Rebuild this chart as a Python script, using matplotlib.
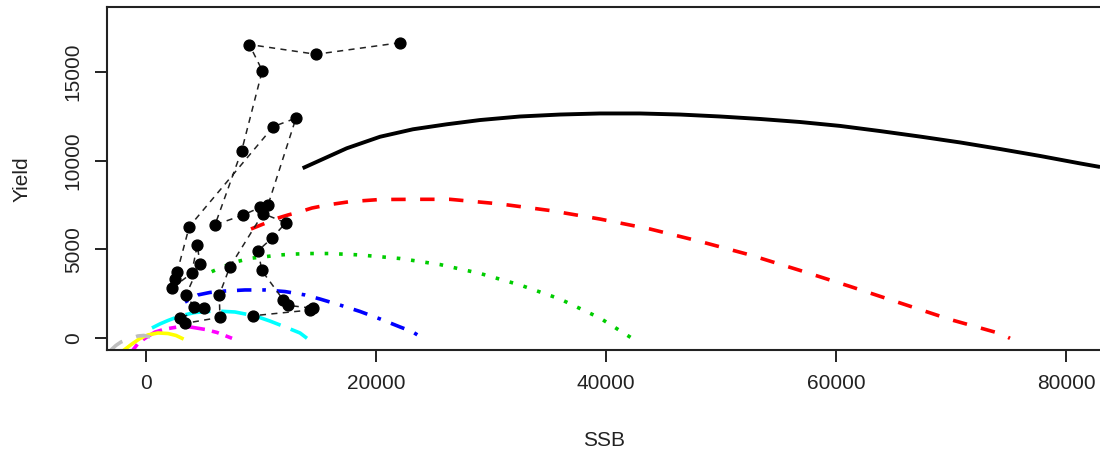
import matplotlib
matplotlib.use("Agg")
import matplotlib.pyplot as plt

# ---- data -------------------------------------------------------------
# observed stock-recruit / yield time series (SSB, Yield), in series order
obs_ssb = [22090, 14790, 8990, 10120, 8330, 6010, 8470, 9920, 10620, 13050,
           11080, 3770, 2730, 2530, 2240, 3980, 4470, 4700, 3490, 4180,
           5050, 2970, 3400, 6440, 6380, 7310, 10180, 12160, 10940, 9770,
           10070, 11950, 12380, 14560, 14270, 9340]
obs_yield = [16630, 15980, 16530, 15060, 10560, 6380, 6940, 7360, 7500, 12390,
             11910, 6280, 3750, 3340, 2810, 3660, 5250, 4190, 2440, 1780,
             1690, 1130, 840, 1180, 2440, 4030, 7020, 6500, 5620, 4940,
             3820, 2160, 1850, 1690, 1590, 1270]

# equilibrium yield curves
c1_ssb = [13630, 17460, 20360, 23220, 26150, 29050, 32530, 36010, 39480, 42960,
          46440, 49920, 53400, 56870, 60350, 63830, 67310, 70790, 74260, 77740,
          81220, 82960]
c1_yield = [9570, 10690, 11340, 11760, 12040, 12280, 12480, 12590, 12650, 12650,
            12590, 12480, 12340, 12170, 11950, 11660, 11350, 11020, 10650, 10260,
            9840, 9640]

c2_ssb = [9140, 10360, 11400, 12360, 13400, 14440, 15750, 17750, 20360, 23830,
          26440, 30790, 35140, 39480, 43830, 48180, 52530, 56870, 61220, 65570,
          69920, 74260, 75130]
c2_yield = [6150, 6470, 6750, 6940, 7120, 7330, 7500, 7690, 7810, 7820,
            7820, 7560, 7190, 6710, 6150, 5450, 4690, 3820, 2920, 1990,
            1060, 270, 0]

c3_ssb = [5720, 6730, 7900, 9050, 10360, 11660, 12960, 14270, 16010, 18620,
          22090, 25570, 29050, 32530, 36010, 39480, 42270]
c3_yield = [3750, 4030, 4310, 4500, 4590, 4690, 4740, 4770, 4770, 4690,
            4490, 4150, 3650, 3000, 2210, 1140, 0]

c4_ssb = [3400, 4530, 5570, 6880, 8620, 10360, 12100, 13830, 15140, 16880,
          18620, 20360, 22090, 23140, 24090]
c4_yield = [2040, 2440, 2580, 2660, 2720, 2720, 2630, 2440, 2210, 1870,
            1510, 1090, 640, 380, 0]

c5_ssb = [530, 1230, 1920, 2970, 4270, 6010, 7750, 9490, 10790, 12100, 13400, 14010]
c5_yield = [580, 810, 1000, 1260, 1450, 1540, 1480, 1260, 970, 640, 300, 0]

c6_ssb = [-1120, -690, -80, 790, 1660, 2790, 3830, 5140, 6180, 7490]
c6_yield = [-660, -290, 0, 350, 520, 640, 640, 500, 330, 0]

c7_ssb = [-1900, -1210, -510, 180, 1050, 1920, 2620, 3140]
c7_yield = [-660, -320, -10, 190, 300, 270, 160, 0]

c8_ssb = [-3040, -2600, -2170, -1380, -690, -170, 360, 700]
c8_yield = [-660, -400, -210, -10, 130, 160, 70, 0]

x_ticks = [0, 20000, 40000, 60000, 80000]
y_ticks = [0, 5000, 10000, 15000]

# ---- figure -------------------------------------------------------------
plt.rcParams["font.family"] = ["Liberation Sans", "DejaVu Sans"]
fig = plt.figure(figsize=(11, 4.54), dpi=100)
ax = fig.add_axes([107 / 1100, 104 / 454, 998 / 1100, 343 / 454])

lw = 2.6
ax.plot(c1_ssb, c1_yield, color="black", lw=2.8, solid_capstyle="butt")
ax.plot(c2_ssb, c2_yield, color="red", lw=lw, dashes=(4, 4))
ax.plot(c3_ssb, c3_yield, color="#00cd00", lw=lw, dashes=(1, 3))
ax.plot(c4_ssb, c4_yield, color="blue", lw=lw, dashes=(1, 3, 4, 3))
ax.plot(c5_ssb, c5_yield, color="cyan", lw=lw, dashes=(7, 3))
ax.plot(c6_ssb, c6_yield, color="magenta", lw=lw, dashes=(2, 2, 6, 2))
ax.plot(c7_ssb, c7_yield, color="yellow", lw=lw)
ax.plot(c8_ssb, c8_yield, color="#bebebe", lw=lw, dashes=(4, 4))

ax.plot(obs_ssb, obs_yield, color="#222222", lw=1.1, dashes=(4, 3.5), zorder=4)
ax.plot(obs_ssb, obs_yield, "o", color="black", ms=7.8, ls="none", zorder=5)

ax.set_xlim(-3380, 83390)
ax.set_ylim(-658, 18640)
ax.set_xticks(x_ticks)
ax.set_xticklabels([str(v) for v in x_ticks], fontsize=15)
ax.set_yticks(y_ticks)
ax.set_yticklabels([str(v) for v in y_ticks], fontsize=15, rotation=90, va="center")
ax.tick_params(direction="out", length=8.5, width=1.4, color="#222222", pad=9,
               labelcolor="#222222")
for s in ax.spines.values():
    s.set_linewidth(1.5)
    s.set_color("#222222")

fig.text(604 / 1100, 1 - 440 / 454, "SSB", fontsize=15, ha="center", va="center",
         color="#222222")
fig.text(22 / 1100, 1 - 179 / 454, "Yield", fontsize=15, ha="center", va="center",
         rotation=90, color="#222222")

fig.savefig("out.png", dpi=100)
